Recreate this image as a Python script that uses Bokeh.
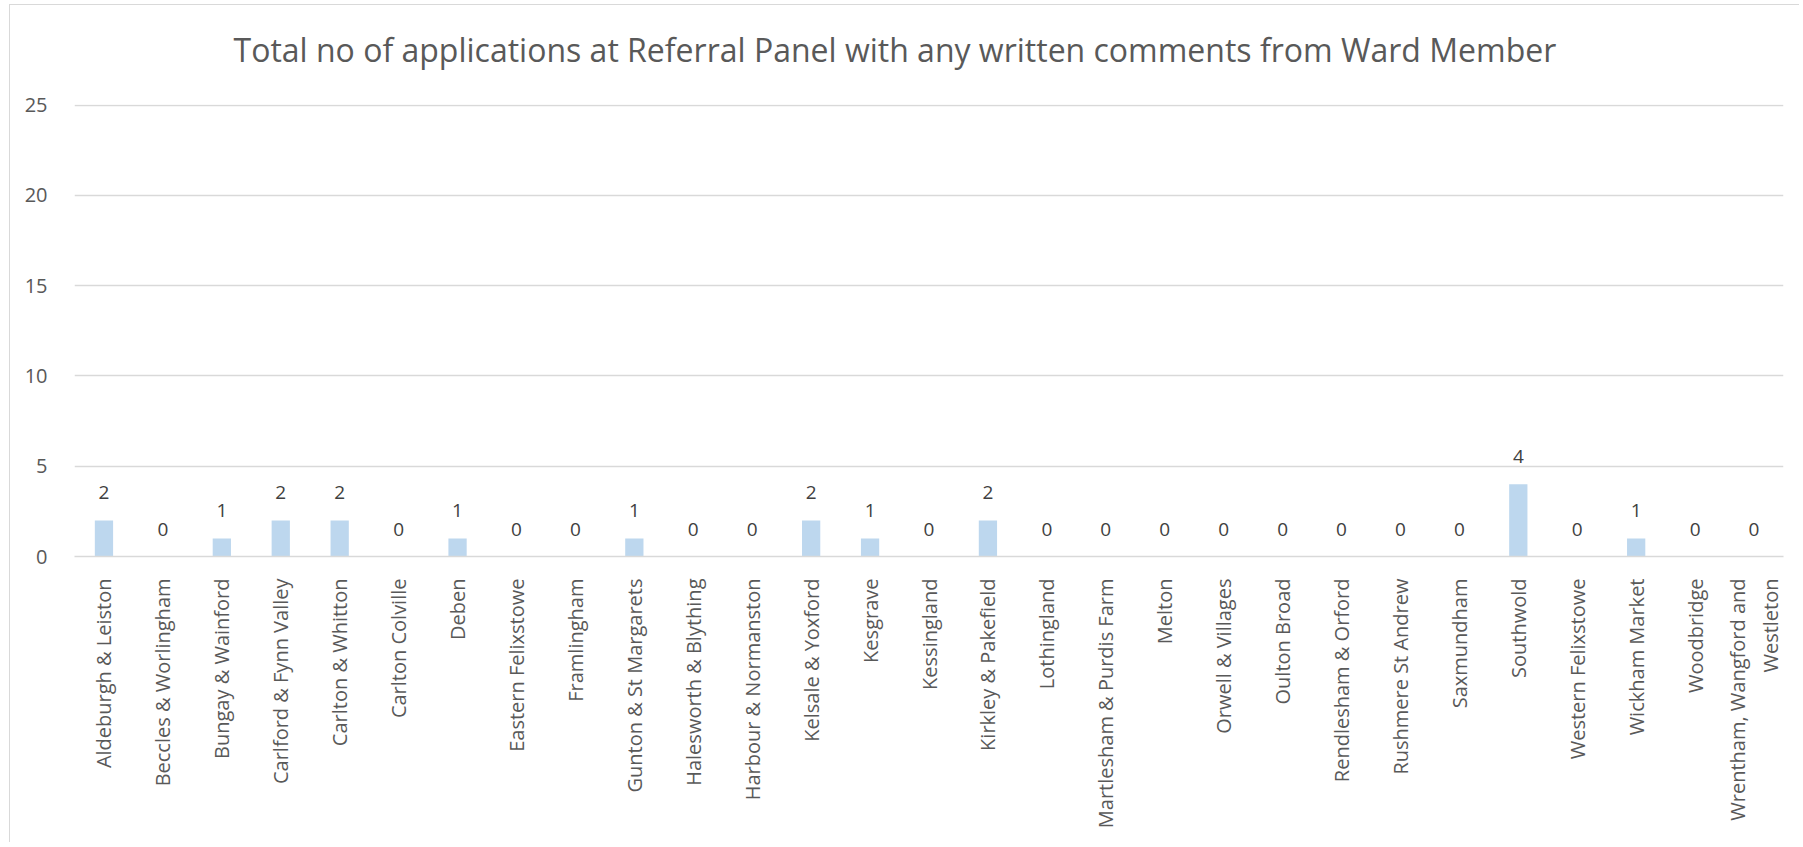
import math
from bokeh.plotting import figure
from bokeh.models import ColumnDataSource, LabelSet, FixedTicker, Range1d, Title
from bokeh.core.properties import value
from bokeh.embed import file_html
from bokeh.resources import INLINE

wards = [
    "Aldeburgh & Leiston", "Beccles & Worlingham", "Bungay & Wainford",
    "Carlford & Fynn Valley", "Carlton & Whitton", "Carlton Colville", "Deben",
    "Eastern Felixstowe", "Framlingham", "Gunton & St Margarets",
    "Halesworth & Blything", "Harbour & Normanston", "Kelsale & Yoxford",
    "Kesgrave", "Kessingland", "Kirkley & Pakefield", "Lothingland",
    "Martlesham & Purdis Farm", "Melton", "Orwell & Villages", "Oulton Broad",
    "Rendlesham & Orford", "Rushmere St Andrew", "Saxmundham", "Southwold",
    "Western Felixstowe", "Wickham Market", "Woodbridge",
    "Wrentham, Wangford and\nWestleton",
]
counts = [2, 0, 1, 2, 2, 0, 1, 0, 0, 1, 0, 0, 2, 1, 0, 2, 0, 0, 0, 0, 0, 0, 0, 0, 4, 0, 1, 0, 0]
y_ticks = [0, 5, 10, 15, 20, 25]
title_text = "Total no of applications at Referral Panel with any written comments from Ward Member"

src = ColumnDataSource(dict(ward=wards, count=counts, lab=[str(c) for c in counts]))

FONT = "Open Sans"
GREY = "#595959"

p = figure(
    x_range=wards, y_range=Range1d(0, 25.03),
    width=1790, height=838,
    output_backend="svg", toolbar_location=None,
    min_border_left=64, min_border_right=17, min_border_top=99, min_border_bottom=287,
)
p.styles = {"border-left": "1px solid #d9d9d9", "border-top": "1px solid #d9d9d9",
            "margin-left": "9px", "margin-top": "4px"}
p.outline_line_color = None
p.background_fill_color = "white"
p.border_fill_color = "white"

# spacer between frame and title
spacer = Title(text=" ", text_font_size="1px", standoff=26)
p.add_layout(spacer, "above")

p.title.text = title_text
p.title.align = "left"
p.title.offset = 159
p.title.text_font = FONT
p.title.text_font_size = "32px"
p.title.text_font_style = "normal"
p.title.text_color = GREY
p.title.standoff = 10

p.vbar(x="ward", top="count", width=0.31, source=src, fill_color="#BDD7EE", line_color=None)

labels = LabelSet(x="ward", y="count", text="lab", source=src, text_align="center",
                  text_baseline="alphabetic", y_offset=21, text_font=value(FONT),
                  text_font_size=value("19px"), text_color="#404040")
p.add_layout(labels)

p.xgrid.grid_line_color = None
p.ygrid.grid_line_color = "#d9d9d9"
p.ygrid.grid_line_width = 1.5
p.yaxis.ticker = FixedTicker(ticks=y_ticks)
p.yaxis.axis_line_color = None
p.yaxis.major_tick_line_color = None
p.yaxis.minor_tick_line_color = None
p.yaxis.major_label_standoff = 21
p.yaxis.major_label_text_font = FONT
p.yaxis.major_label_text_font_size = "20px"
p.yaxis.major_label_text_color = GREY

p.xaxis.axis_line_color = "#d9d9d9"
p.xaxis.axis_line_width = 1.5
p.xaxis.major_tick_line_color = None
p.xaxis.minor_tick_line_color = None
p.xaxis.major_label_orientation = math.pi / 2
p.xaxis.major_label_standoff = 16
p.xaxis.major_label_text_font = FONT
p.xaxis.major_label_text_font_size = "20px"
p.xaxis.major_label_text_color = GREY

with open("out.html", "w") as f:
    f.write(file_html(p, INLINE))
